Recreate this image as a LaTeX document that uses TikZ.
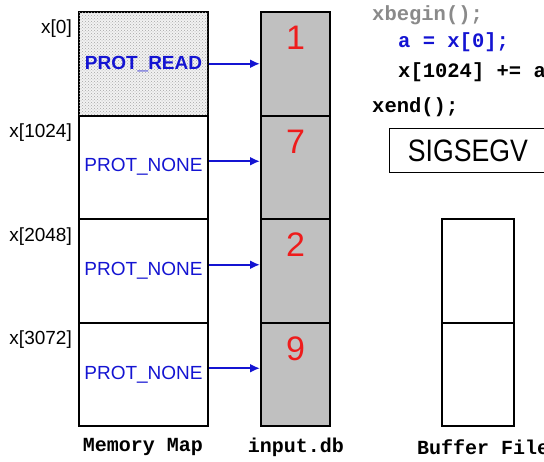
\documentclass[tikz,border=0pt]{standalone}
\usepackage{fontspec}
\setmainfont{Liberation Sans}
\setmonofont{Liberation Mono}
\newfontfamily\sigfont[FakeStretch=0.86]{Liberation Sans}
\usetikzlibrary{arrows.meta,positioning,patterns}
\definecolor{protblue}{HTML}{1414D2}
\definecolor{digitred}{HTML}{EE1C1C}
\definecolor{dbgray}{HTML}{C0C0C0}
\definecolor{codegray}{HTML}{8A8A8A}
\tikzset{memcell/.style={draw,line width=2pt,minimum width=129pt,minimum height=103.5pt,inner sep=0pt,anchor=north west,text=protblue,font=\fontsize{19}{22}\selectfont},dbcell/.style={draw,line width=2pt,fill=dbgray,minimum width=69pt,minimum height=103.5pt,inner sep=0pt,anchor=north west},bufcell/.style={draw,line width=2pt,minimum width=72pt,minimum height=103.5pt,inner sep=0pt,anchor=north west},addrlabel/.style={anchor=east,inner sep=0pt,font=\fontsize{19}{22}\selectfont},digit/.style={inner sep=0pt,text=digitred,font=\fontsize{34}{36}\selectfont},protarr/.style={-{Latex[length=10pt,width=9pt]},line width=2.4pt,draw=protblue},codeline/.style={anchor=west,inner sep=0pt,font=\ttfamily\bfseries\fontsize{20.5}{24}\selectfont},caption/.style={inner sep=0pt,font=\ttfamily\bfseries\fontsize{20}{24}\selectfont}}
\begin{document}
\begin{tikzpicture}[x=1pt,y=-1pt]
\useasboundingbox (0,0) rectangle (544,461);
% memory map
\node[memcell,fill=gray!10,postaction={pattern=crosshatch dots,pattern color=gray!70},font=\bfseries\fontsize{19}{22}\selectfont] (m0) at (78,11) {PROT\_READ};
\node[memcell] (m1) at (78,114.5) {PROT\_NONE};
\node[memcell] (m2) at (78,218) {PROT\_NONE};
\node[memcell] (m3) at (78,321.5) {PROT\_NONE};
\node[addrlabel] (a0) at (72,29) {x[0]};
\node[addrlabel] (a1) at (72,133) {x[1024]};
\node[addrlabel] (a2) at (72,237) {x[2048]};
\node[addrlabel] (a3) at (72,340) {x[3072]};
% input.db
\node[dbcell] (d0) at (260,11) {};
\node[dbcell] (d1) at (260,114.5) {};
\node[dbcell] (d2) at (260,218) {};
\node[dbcell] (d3) at (260,321.5) {};
\node[digit] (n0) at ([yshift=-27pt]d0.north) {1};
\node[digit] (n1) at ([yshift=-27pt]d1.north) {7};
\node[digit] (n2) at ([yshift=-27pt]d2.north) {2};
\node[digit] (n3) at ([yshift=-27pt]d3.north) {9};
\draw[protarr] (m0.east)--(d0.west);
\draw[protarr] ([yshift=6pt]m1.east)--([yshift=6pt]d1.west);
\draw[protarr] ([yshift=6pt]m2.east)--([yshift=6pt]d2.west);
\draw[protarr] ([yshift=6pt]m3.east)--([yshift=6pt]d3.west);
% buffer file
\node[bufcell] (b0) at (441,218) {};
\node[bufcell] (b1) at (441,321.5) {};
% transaction code
\node[codeline,text=codegray] (c0) at (372,15) {xbegin();};
\node[codeline,text=protblue] (c1) at (398,42) {a = x[0];};
\node[codeline] (c2) at (398,72) {x[1024] += a};
\node[codeline] (c3) at (372,107) {xend();};
\node[draw,line width=0.8pt,anchor=north west,minimum width=160pt,minimum height=44pt,inner sep=0pt,font=\sigfont\fontsize{31}{34}\selectfont] (sig) at (389,128) {\hspace*{-3pt}SIGSEGV};
% captions
\node[caption] (capm) at (143,447) {Memory Map};
\node[caption] (capd) at (296,447) {input.db};
\node[caption,anchor=west] (capb) at (417,447) {Buffer File};
\end{tikzpicture}
\end{document}
